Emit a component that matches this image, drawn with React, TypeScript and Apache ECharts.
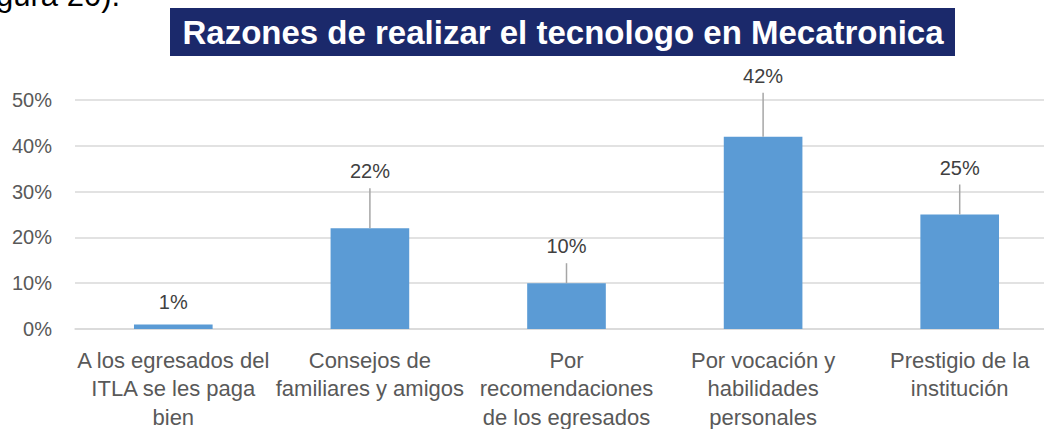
import React, { useEffect, useRef } from "react";
import * as echarts from "echarts";

const categories = [
  "A los egresados del\nITLA se les paga\nbien",
  "Consejos de\nfamiliares y amigos",
  "Por\nrecomendaciones\nde los egresados",
  "Por vocación y\nhabilidades\npersonales",
  "Prestigio de la\ninstitución",
];
const values = [1, 22, 10, 42, 25];
const yTicks = { min: 0, max: 50, interval: 10 };
const titleText = "Razones de realizar el tecnologo en Mecatronica";
const captionText = "gura 20).";
// distance (px) from bar top to label centre
const labelLift = [22, 57, 37, 61, 47];

const FONT = '"Liberation Sans", Arial, sans-serif';

export default function App() {
  const ref = useRef<HTMLDivElement>(null);
  useEffect(() => {
    if (!ref.current) return;
    const chart = echarts.init(ref.current, null, { renderer: "svg" });
    chart.setOption({
      animation: false,
      backgroundColor: "#ffffff",
      graphic: [
        {
          type: "text",
          left: -4,
          top: -20,
          style: { text: captionText, fontSize: 31, fontFamily: FONT, fill: "#000000" },
        },
        {
          type: "rect",
          shape: { x: 170, y: 8, width: 785, height: 48 },
          style: { fill: "#1B296B" },
        },
        {
          type: "text",
          x: 563,
          y: 32,
          style: {
            text: titleText,
            fontSize: 33,
            fontWeight: "bold",
            fontFamily: FONT,
            fill: "#ffffff",
            align: "center",
            verticalAlign: "middle",
          },
        },
      ],
      grid: {
        left: 75,
        top: 100,
        width: 983,
        bottom: 100,
        containLabel: false,
        outerBoundsMode: "none",
      },
      xAxis: {
        type: "category",
        data: categories,
        axisLine: { show: true, lineStyle: { color: "#D9D9D9", width: 1.5 } },
        axisTick: { show: false },
        axisLabel: {
          interval: 0,
          margin: 17,
          fontSize: 22,
          lineHeight: 28.5,
          fontFamily: FONT,
          color: "#595959",
          align: "center",
        },
      },
      yAxis: {
        type: "value",
        min: yTicks.min,
        max: yTicks.max,
        interval: yTicks.interval,
        axisLine: { show: false },
        axisTick: { show: false },
        splitLine: { lineStyle: { color: "#D9D9D9", width: 1.5 } },
        axisLabel: {
          formatter: "{value}%",
          margin: 23,
          fontSize: 20,
          fontFamily: FONT,
          color: "#595959",
        },
      },
      series: [
        {
          type: "bar",
          data: values,
          barWidth: "40%",
          itemStyle: { color: "#5B9BD5" },
        },
        {
          type: "custom",
          data: values.map((v, i) => [i, v]),
          encode: { x: 0, y: 1 },
          z: 5,
          renderItem: (params: any, api: any) => {
            const i = api.value(0);
            const v = api.value(1);
            const p = api.coord([i, v]);
            const lift = labelLift[params.dataIndex];
            const children: any[] = [
              {
                type: "text",
                x: p[0],
                y: p[1] - lift,
                style: {
                  text: v + "%",
                  fontSize: 20,
                  fontFamily: FONT,
                  fill: "#404040",
                  align: "center",
                  verticalAlign: "middle",
                },
              },
            ];
            if (lift > 30) {
              children.push({
                type: "line",
                shape: { x1: p[0], y1: p[1] - lift + 17, x2: p[0], y2: p[1] },
                style: { stroke: "#A6A6A6", lineWidth: 1.5 },
              });
            }
            return { type: "group", children };
          },
        },
      ],
    });
    return () => chart.dispose();
  }, []);
  return (
    <div
      ref={ref}
      style={{ position: "absolute", left: 0, top: 0, width: 1044, height: 429, background: "#ffffff" }}
    />
  );
}
